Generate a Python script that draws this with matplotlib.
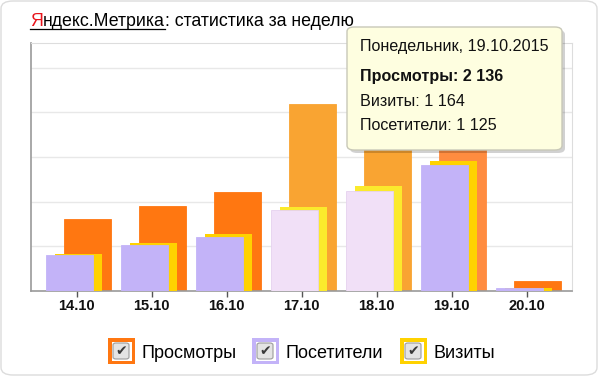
import matplotlib
matplotlib.use('Agg')
import matplotlib.pyplot as plt
from matplotlib.patches import FancyBboxPatch, Rectangle
import numpy as np

plt.rcParams['font.family'] = ['Liberation Sans', 'DejaVu Sans']

# data
dates = ['14.10', '15.10', '16.10', '17.10', '18.10', '19.10', '20.10']
views = [645, 761, 886, 1674, 1850, 2136, 90]
visits = [331, 432, 510, 752, 940, 1164, 27]
visitors = [322, 412, 483, 725, 895, 1125, 25]
weekend = [False, False, False, True, True, False, False]
hovered = 5

W, H = 603, 376
fig = plt.figure(figsize=(W / 100, H / 100), dpi=100)


def fx(x):
    return x / W


def fy(y):
    return 1 - y / H


# outer frame
fig.patches.append(FancyBboxPatch((fx(1), fy(375)), fx(596), 374 / H,
                                  boxstyle='round,pad=0,rounding_size=0.02',
                                  transform=fig.transFigure, fc='white',
                                  ec='#dcdcdc', lw=1, zorder=0))

ax = fig.add_axes([fx(31), fy(291), fx(541), 248 / H])
ax.set_zorder(1)

x = np.arange(len(dates))
w = 0.62
c_views = ['#f9a432' if we else '#ff7711' for we in weekend]
c_views[hovered] = '#ff8c40'
c_visits = ['#fbea2c' if we else '#ffd200' for we in weekend]
c_visitors = ['#f1e0f7' if we else '#c3b3f8' for we in weekend]

ax.bar(x + 0.144, views, w, color=c_views, edgecolor=c_views, lw=0.6, zorder=2)
ax.bar(x + 0.022, visits, w, color=c_visits, zorder=3)
ax.bar(x - 0.098, visitors, w, color=c_visitors,
       edgecolor=['#e6d2ef' if we else '#c3b3f8' for we in weekend], lw=0.6, zorder=4)

ax.set_xlim(-0.609, 6.604)
ax.set_ylim(0, 2220)
ax.set_yticks([400, 800, 1200, 1600, 2000])
ax.yaxis.grid(True, color='#e8e8e8', lw=1)
ax.set_axisbelow(True)
ax.tick_params(axis='y', left=False, labelleft=False)
ax.set_xticks(x)
ax.set_xticklabels(dates, fontsize=10.5, fontweight='bold', color='#111')
ax.tick_params(axis='x', length=4, width=1, color='#555', pad=2)
for s in ['left', 'bottom']:
    ax.spines[s].set_color('#9a9a9a')
    ax.spines[s].set_linewidth(1.2)
for s in ['top', 'right']:
    ax.spines[s].set_color('#dddddd')

# title
r = fig.canvas.get_renderer()
t1 = fig.text(fx(30), fy(21), 'Я', color='#e8141b', fontsize=12.8, va='center')
bb = t1.get_window_extent(r)
t2 = fig.text(bb.x1 / W, fy(21), 'ндекс.Метрика', color='black', fontsize=12.8, va='center')
bb2 = t2.get_window_extent(r)
fig.text(bb2.x1 / W, fy(21), ': статистика за неделю', color='black', fontsize=12.8, va='center')
fig.add_artist(plt.Line2D([fx(30), bb2.x1 / W], [fy(29), fy(29)], color='black', lw=0.9,
                          transform=fig.transFigure))

# tooltip
fig.patches.append(FancyBboxPatch((fx(350), fy(153)), fx(215), 123 / H,
                                  boxstyle='round,pad=0,rounding_size=0.012',
                                  transform=fig.transFigure, fc='#000000', alpha=0.18,
                                  ec='none', zorder=5))
fig.patches.append(FancyBboxPatch((fx(347), fy(150)), fx(215), 123 / H,
                                  boxstyle='round,pad=0,rounding_size=0.012',
                                  transform=fig.transFigure, fc='#fefee0',
                                  ec='#c8c8b8', lw=1, zorder=6))
tip = ['Понедельник, 19.10.2015',
       'Просмотры: ' + '{:,}'.format(views[hovered]).replace(',', ' '),
       'Визиты: ' + '{:,}'.format(visits[hovered]).replace(',', ' '),
       'Посетители: ' + '{:,}'.format(visitors[hovered]).replace(',', ' ')]
tip_y = [47, 76.5, 101.5, 126]
for i, line in enumerate(tip):
    fig.text(fx(360), fy(tip_y[i]), line, fontsize=11.6, va='center', color='#111',
             fontweight='bold' if i == 1 else 'normal', zorder=7)

# legend
legend = [('Просмотры', '#ff7711', 108), ('Посетители', '#c3b3f8', 252), ('Визиты', '#ffd200', 400)]
for name, col, x0 in legend:
    fig.patches.append(Rectangle((fx(x0), fy(364)), fx(27), 26 / H, transform=fig.transFigure,
                                 fc=col, ec='none', zorder=2))
    fig.patches.append(Rectangle((fx(x0 + 3.5), fy(360.5)), fx(20), 19 / H, transform=fig.transFigure,
                                 fc='white', ec='none', zorder=2))
    fig.patches.append(FancyBboxPatch((fx(x0 + 5), fy(359)), fx(16), 16 / H,
                                      boxstyle='round,pad=0,rounding_size=0.005',
                                      transform=fig.transFigure, fc='#e4e4e4',
                                      ec='#9c9c9c', lw=0.8, zorder=2))
    fig.text(fx(x0 + 13), fy(351), '✔', fontsize=10, ha='center', va='center',
             color='#3a3a3a', family='DejaVu Sans', zorder=3)
    fig.text(fx(x0 + 33.5), fy(354), name, fontsize=13, va='center', color='black')

fig.savefig('out.png', dpi=100)
